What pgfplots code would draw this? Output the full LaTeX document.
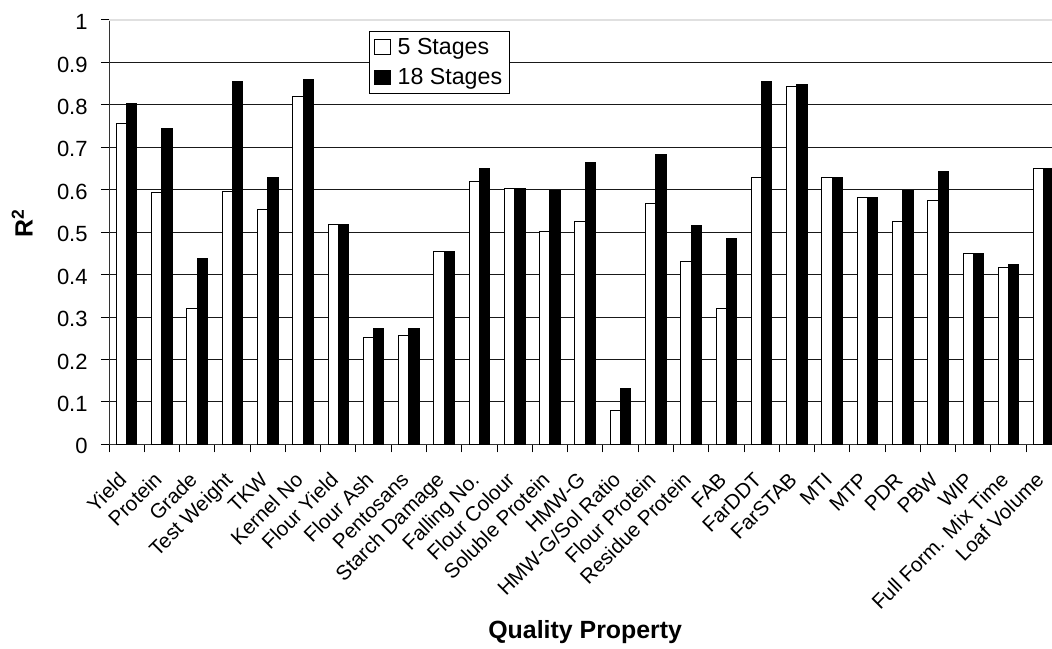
\documentclass[border=0pt]{standalone}
\usepackage{fontspec}
\setmainfont{Liberation Sans}
\usepackage{pgfplots}
\pgfplotsset{compat=1.18}

% R^2 of the calibration models, two staging schemes
\pgfplotstableread{
idx five eighteen
0  0.755 0.804
1  0.593 0.745
2  0.321 0.438
3  0.595 0.855
4  0.553 0.630
5  0.819 0.860
6  0.519 0.519
7  0.251 0.272
8  0.257 0.274
9  0.454 0.454
10 0.619 0.651
11 0.602 0.602
12 0.501 0.599
13 0.525 0.664
14 0.081 0.131
15 0.568 0.684
16 0.431 0.515
17 0.321 0.484
18 0.628 0.854
19 0.843 0.849
20 0.628 0.630
21 0.581 0.581
22 0.526 0.599
23 0.575 0.642
24 0.449 0.449
25 0.416 0.423
26 0.649 0.649
}\rsq

\newcommand{\tickfont}{\fontsize{11}{13}\selectfont}
\newcommand{\catfont}{\fontsize{10.3}{12}\selectfont}
\newcommand{\legfont}{\fontsize{11.6}{13.5}\selectfont}
\newcommand{\titlefont}{\fontsize{12.45}{15}\selectfont\bfseries}
\newcommand{\legstrut}{\rule[-2.6pt]{0pt}{11.2pt}\hspace{2.5pt}}

\begin{document}
\begin{tikzpicture}
\useasboundingbox (-54.5pt,-101.8pt) rectangle (471.5pt,222.2pt);
\begin{axis}[
  at={(0,0)}, anchor=south west,
  scale only axis, width=471.5pt, height=212.2pt,
  xmin=-0.5, xmax=26.23, ymin=0, ymax=1,
  axis x line*=bottom, axis y line*=left,
  axis line style={black!80, line width=0.5pt},
  ybar,
  bar width=0.292,
  tick align=outside,
  xtick={0,...,26},
  major x tick style={draw=none},
  minor xtick={-0.5,0.5,...,26.5},
  minor x tick style={black, line width=0.5pt},
  minor tick length=4pt,
  xticklabels={Yield,Protein,Grade,Test Weight,TKW,Kernel No,Flour Yield,Flour Ash,Pentosans,Starch Damage,Falling No.,Flour Colour,Soluble Protein,HMW-G,HMW-G/Sol Ratio,Flour Protein,Residue Protein,FAB,FarDDT,FarSTAB,MTI,MTP,PDR,PBW,WIP,Full Form. Mix Time,Loaf Volume},
  xticklabel style={font=\catfont, xshift=-1pt, rotate=45, anchor=east, inner sep=0pt,
    text height=8.4pt, text depth=3.6pt},
  xticklabel shift=12.7pt,
  ytick={0,0.1,0.2,0.3,0.4,0.5,0.6,0.7,0.8,0.9},
  yticklabels={0,0.1,0.2,0.3,0.4,0.5,0.6,0.7,0.8,0.9},
  extra y ticks={1},
  extra y tick labels={1},
  extra y tick style={major grid style={black!12, line width=0.6pt}},
  major y tick style={black, line width=0.5pt},
  major tick length=4pt,
  yticklabel style={font=\tickfont, anchor=east, inner sep=0pt, xshift=-6.5pt, yshift=-1pt},
  ymajorgrids,
  major grid style={black!90, line width=0.5pt},
  xlabel={Quality Property},
  xlabel style={font=\titlefont, at={(axis description cs:0.505,-0.4585)}, anchor=base},
  ylabel={R\textsuperscript{2}},
  ylabel style={font=\titlefont, at={(axis description cs:-0.092,0.522)}, rotate=0, anchor=center},
  legend style={at={(axis description cs:0.2757,0.973)}, anchor=north west,
    draw=black, line width=0.5pt, fill=white, font=\legfont,
    inner xsep=2.5pt, inner ysep=1.7pt, row sep=3pt, cells={anchor=west},
    nodes={inner sep=1pt}},
  legend image code/.code={\draw[#1, line width=0.5pt] (0pt,-3.6pt) rectangle (7.6pt,3.8pt);},
]
\addplot[draw=black, fill=white, line width=0.5pt, bar shift=-0.146] table[x=idx, y=five] {\rsq};
\addplot[draw=black, fill=black, line width=0.5pt, bar shift=0.146] table[x=idx, y=eighteen] {\rsq};
\legend{\legstrut 5 Stages, \legstrut 18 Stages}
\end{axis}
\end{tikzpicture}
\end{document}
